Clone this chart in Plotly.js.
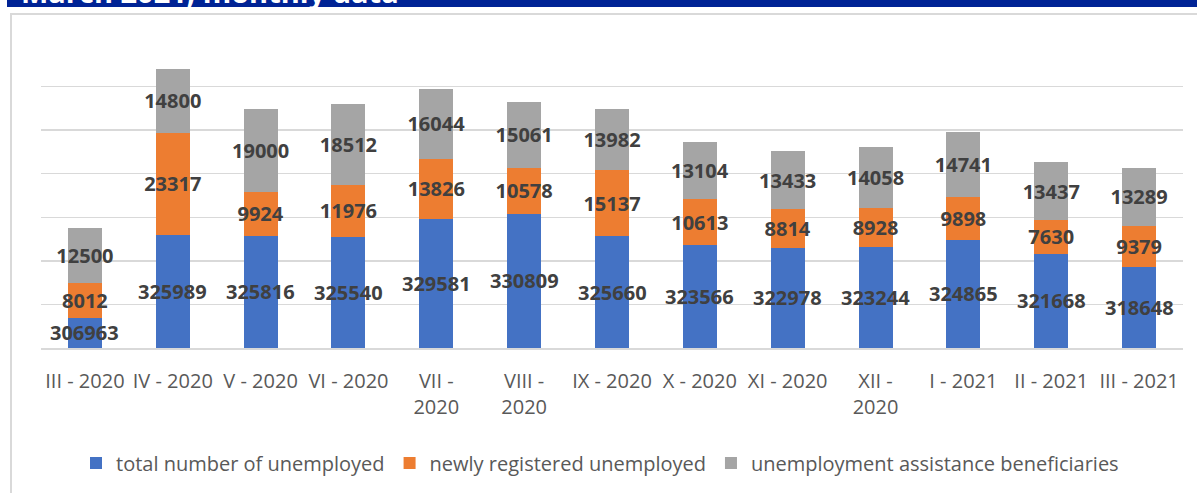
<!DOCTYPE html>
<html>
<head>
<meta charset="utf-8">
<script src="https://cdn.plot.ly/plotly-3.0.1.min.js"></script>
<style>html,body{margin:0;padding:0;background:#fff;}#chart{width:1197px;height:493px;}</style>
</head>
<body>
<div id="chart"></div>
<script>
var categories = ["III - 2020", "IV - 2020", "V - 2020", "VI - 2020", "VII -<br>2020", "VIII -<br>2020", "IX - 2020", "X - 2020", "XI - 2020", "XII -<br>2020", "I - 2021", "II - 2021", "III - 2021"];
var totalUnemployed = [306963, 325989, 325816, 325540, 329581, 330809, 325660, 323566, 322978, 323244, 324865, 321668, 318648];
var newlyRegistered = [8012, 23317, 9924, 11976, 13826, 10578, 15137, 10613, 8814, 8928, 9898, 7630, 9379];
var assistanceBeneficiaries = [12500, 14800, 19000, 18512, 16044, 15061, 13982, 13104, 13433, 14058, 14741, 13437, 13289];
var seriesNames = ["total number of unemployed", "newly registered unemployed", "unemployment assistance beneficiaries"];
var axisMin = 300000, axisMax = 370000;
var titleText = "March 2021, monthly data";

var FONT = "Open Sans, Liberation Sans, sans-serif";
var labelFont = {family: FONT, size: 20, color: "#404040", weight: "bold"};

// plot area geometry in pixels (for paper conversion of decorations)
var L = 41, R = 14, T = 43, B = 144, W = 1197, H = 493;
var pw = W - L - R, ph = H - T - B;
function px(x){ return (x - L) / pw; }
function py(y){ return (H - B - y) / ph; }

var traces = [
  {type: "bar", name: seriesNames[0], x: categories, y: totalUnemployed,
   marker: {color: "#4472C4"}, hoverinfo: "skip"},
  {type: "bar", name: seriesNames[1], x: categories, y: newlyRegistered,
   text: newlyRegistered.map(String), textposition: "inside", insidetextanchor: "middle", textangle: 0,
   constraintext: "none", textfont: labelFont, insidetextfont: labelFont,
   marker: {color: "#ED7D31"}, hoverinfo: "skip", cliponaxis: false},
  {type: "bar", name: seriesNames[2], x: categories, y: assistanceBeneficiaries,
   text: assistanceBeneficiaries.map(String), textposition: "inside", insidetextanchor: "middle", textangle: 0,
   constraintext: "none", textfont: labelFont, insidetextfont: labelFont,
   marker: {color: "#A5A5A5"}, hoverinfo: "skip", cliponaxis: false}
];

// labels of the visible part of the first series (axis starts above zero)
var annotations = categories.map(function(c, i){
  return {x: c, y: (axisMin + totalUnemployed[i]) / 2, xref: "x", yref: "y",
          text: String(totalUnemployed[i]), showarrow: false, font: labelFont};
});
annotations.push({x: px(19), y: py(13), xref: "paper", yref: "paper", xanchor: "left", yanchor: "bottom",
  text: titleText, showarrow: false, font: {family: FONT, size: 29, color: "#ffffff", weight: "bold"}});

var layout = {
  width: W, height: H,
  margin: {l: L, r: R, t: T, b: B, pad: 0},
  paper_bgcolor: "#ffffff", plot_bgcolor: "#ffffff",
  barmode: "stack", bargap: 0.613,
  showlegend: true,
  legend: {orientation: "h", x: px(600), xanchor: "center", y: py(463), yanchor: "middle",
           font: {family: FONT, size: 20, color: "#595959"}, traceorder: "normal", itemwidth: 30},
  xaxis: {type: "category", tickfont: {family: FONT, size: 20, color: "#595959"},
          showline: true, linecolor: "#d9d9d9", linewidth: 1.5, ticks: "", showgrid: false,
          ticklabelstandoff: 14},
  yaxis: {range: [axisMin, axisMax], tick0: axisMin, dtick: 10000, showticklabels: false,
          showgrid: true, gridcolor: "#d9d9d9", gridwidth: 1.5, zeroline: false, ticks: "", fixedrange: true},
  annotations: annotations,
  shapes: [
    {type: "rect", xref: "paper", yref: "paper", x0: px(7), x1: px(1200), y0: py(7), y1: py(-5),
     fillcolor: "#002395", line: {width: 0}, layer: "below"},
    {type: "rect", xref: "paper", yref: "paper", x0: px(11), x1: px(1210), y0: py(520), y1: py(14),
     fillcolor: "rgba(0,0,0,0)", line: {color: "#d9d9d9", width: 2}, layer: "below"}
  ]
};

Plotly.newPlot("chart", traces, layout, {displayModeBar: false, staticPlot: true});
</script>
</body>
</html>
